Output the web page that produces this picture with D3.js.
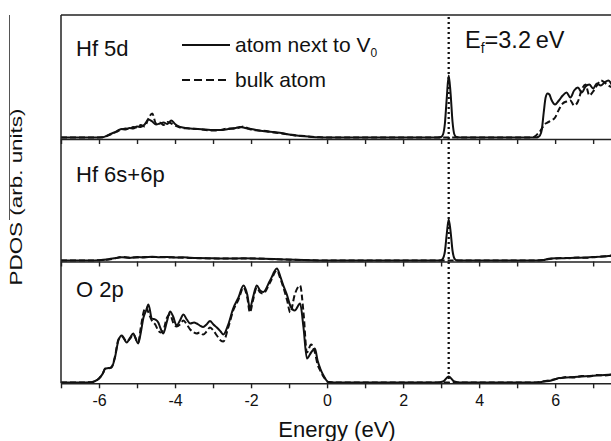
<!DOCTYPE html>
<html><head><meta charset="utf-8">
<script src="https://cdn.jsdelivr.net/npm/d3@7"></script>
<style>html,body{margin:0;padding:0;background:#fff}svg{display:block}text{font-family:"Liberation Sans",Arial,sans-serif;fill:#111}</style>
</head><body><svg id="c" width="611" height="441"></svg>
<script>
// ---- data (arbitrary units) ----
const xTicks = [-7,-6,-5,-4,-3,-2,-1,0,1,2,3,4,5,6,7];
const xLabels = [-6,-4,-2,0,2,4,6];
const panelNames = ["Hf 5d","Hf 6s+6p","O 2p"];
const fermiLevel = 3.2;
const seriesNames = ["atom next to V","bulk atom"];

const hf5dE = [-7,-6.2,-5.9,-5.8,-5.7,-5.6,-5.5,-5.4,-5.3,-5.2,-5.1,-5.0,-4.9,-4.8,-4.7,-4.6,-4.5,-4.4,-4.3,-4.2,-4.1,-4.0,-3.9,-3.8,-3.6,-3.4,-3.2,-3.0,-2.8,-2.6,-2.4,-2.3,-2.2,-2.1,-2.0,-1.8,-1.6,-1.4,-1.2,-1.0,-0.8,-0.6,-0.4,-0.2,0.0,2.9,3.0,3.05,3.1,3.15,3.2,3.25,3.3,3.35,3.4,3.5,5.4,5.5,5.55,5.6,5.65,5.7,5.75,5.8,5.85,5.9,6.0,6.1,6.2,6.3,6.4,6.5,6.6,6.7,6.8,6.9,7.0,7.1,7.2,7.3,7.4,7.5];
const hf5dNext = [0,0,0.3,1.5,3.5,5,7,8.5,8,9.5,9,11,10.5,13,18,16,13,14,15,13.5,17,13.5,11,10,9,8.5,8,7.5,7.5,8.5,9.5,10.5,10,9,8.5,7,6,5.5,4.5,3,2,1.2,0.6,0.2,0,0,0.5,3,14,40,62,44,16,3,0.5,0,0,0,0.5,2,8,25,40,44,43,38,33,37,42,45,40,47,50,45,51,53,49,54,52,55,57,52];
const hf5dBulk = [0,0,0.3,1.5,3,4.5,6.5,8,9,8.5,10.5,10,12.5,11,19,24,14,15,12.5,15.5,14,12,10.5,9.5,9,8.5,7.5,7,7.5,9,9,10,11,9.5,8,7,6.5,5,4,3,2,1.5,0.7,0.2,0,0,0,0,0,0,0,0,0,0,0,0,0,2,4,6,9,12,14,15,16,17,20,28,34,36,37,32,36,48,53,42,46,52,57,55,52,50];

const hf6sE = [-7,-6.2,-6.0,-5.8,-5.6,-5.4,-5.2,-5.0,-4.8,-4.6,-4.4,-4.2,-4.0,-3.8,-3.6,-3.4,-3.0,-2.6,-2.2,-1.8,-1.4,-1.0,-0.6,-0.2,0,2.9,3.0,3.05,3.1,3.15,3.2,3.25,3.3,3.35,3.4,3.5,5.5,5.7,5.8,5.9,6.0,6.2,6.4,6.6,6.8,7.0,7.2,7.4,7.5];
const hf6sNext = [0,0,0.3,1,2.3,3.2,2.6,3.4,3.0,3.8,3.3,3.5,3.0,3.2,2.7,2.4,2.2,2.0,2.2,1.8,1.4,0.9,0.4,0.1,0,0,0.3,2,9,27,41,29,10,2,0.3,0,0,0.5,1.5,2,2.3,2.2,2.6,2.8,3.0,3.5,3.8,4.5,5];
const hf6sBulk = [0,0,0.3,0.8,2.0,3.5,2.9,3.0,3.5,3.4,3.6,3.1,3.2,2.8,2.6,2.3,2.1,2.1,2.0,1.9,1.3,0.8,0.4,0.1,0,0,0,0,0,0,0,0,0,0,0,0,0,0.4,1.2,1.8,2.0,2.5,2.3,3.0,2.7,3.3,4.0,4.3,5.2];

const o2pE = [-7,-6.5,-6.2,-6.1,-6.0,-5.9,-5.84,-5.75,-5.67,-5.58,-5.49,-5.4,-5.27,-5.18,-5.1,-4.97,-4.9,-4.83,-4.76,-4.7,-4.61,-4.52,-4.44,-4.38,-4.31,-4.22,-4.13,-4.05,-3.96,-3.87,-3.78,-3.69,-3.6,-3.5,-3.43,-3.35,-3.26,-3.17,-3.08,-2.99,-2.9,-2.8,-2.73,-2.6,-2.47,-2.33,-2.2,-2.1,-2.03,-1.95,-1.85,-1.76,-1.68,-1.5,-1.32,-1.23,-1.15,-1.05,-0.97,-0.85,-0.71,-0.62,-0.53,-0.42,-0.32,-0.25,-0.18,-0.08,0.03,0.2,2.9,3.05,3.2,3.35,3.5,5.5,5.7,5.9,6.1,6.3,6.5,6.7,6.9,7.1,7.3,7.5];
const o2pNext = [0,0,0.3,1.5,4,9,14,14.5,15,25,42,47,40,45,49,39,50,65,72,78,64,63,60,54,49,60,71,66,57,62,68,63,59,60,59,57,55.5,58,61.5,58,55,51,48,58,74,85,97,88,74,85,97,92,90.5,102,114,106,97,87,77,72,79,55,24,30,34,22,14,6,0.5,0,0,1,6,1,0,0,1,2,4.5,5,5.5,6,6.5,7,7.5,8];
const o2pBulk = [0,0,0.3,1.5,4,9,13.5,14,15.5,26,43,46,41,44,48,40,55,70,75,70,62,58,52,50,52,64,68,60,56,58,62,58,53,50,49,50,48,51,55,52,47,42,41,55,72,83,95,85,70,82,95,90,89,100,112,104,95,82,70,88,97,70,30,38,30,18,12,5,0.5,0,0,0,0,0,0,0,1.2,2.5,4,5.5,5,6.5,6,7.5,7,8];

// ---- layout ----
const svg = d3.select("#c");
const plotLeft = 61, plotRight = 611, plotTop = 15, plotBottom = 383.3;
const x = d3.scaleLinear().domain([-7, 7.47]).range([plotLeft, plotRight]);
const panels = [
  {name: panelNames[0], bottom: 139, base: 137.5, E: hf5dE, a: hf5dNext, b: hf5dBulk, labY: 56},
  {name: panelNames[1], bottom: 261.5, base: 260.5, E: hf6sE, a: hf6sNext, b: hf6sBulk, labY: 182},
  {name: panelNames[2], bottom: 383.3, base: 382.5, E: o2pE, a: o2pNext, b: o2pBulk, labY: 297}
];

panels.forEach((p, idx) => {
  const y = d3.scaleLinear().domain([0, 100]).range([p.base, p.base - 100]);
  const line = d3.line().x(d => x(d[0])).y(d => y(d[1])).curve(d3.curveMonotoneX);
  const g = svg.append("g");
  g.append("path").attr("d", line(p.E.map((e,i)=>[e,p.b[i]])))
    .attr("fill","none").attr("stroke","#111").attr("stroke-width",2).attr("stroke-dasharray","6,3");
  g.append("path").attr("d", line(p.E.map((e,i)=>[e,p.a[i]])))
    .attr("fill","none").attr("stroke","#111").attr("stroke-width",2);
  const ax = d3.axisBottom(x).tickValues(xTicks).tickSize(5).tickSizeOuter(0)
    .tickFormat(d => (idx === 2 && xLabels.includes(d)) ? String(d) : "");
  const ag = svg.append("g").attr("transform", `translate(0,${p.bottom})`).call(ax);
  ag.select(".domain").attr("stroke","#222").attr("stroke-width",1.5);
  ag.selectAll(".tick line").attr("stroke","#222").attr("stroke-width",1.4);
  ag.selectAll(".tick text").attr("font-size",16).attr("font-family","Liberation Sans, Arial, sans-serif")
    .attr("fill","#111").attr("y",11).attr("dy","0.71em");
  svg.append("text").attr("x",76).attr("y",p.labY).attr("font-size",22).text(p.name);
});

// frame: top and left
svg.append("line").attr("x1",plotLeft).attr("x2",plotRight).attr("y1",plotTop).attr("y2",plotTop).attr("stroke","#222").attr("stroke-width",1.5);
svg.append("line").attr("x1",plotLeft).attr("x2",plotLeft).attr("y1",plotTop).attr("y2",plotBottom).attr("stroke","#222").attr("stroke-width",1.5);

// Fermi level dotted line
svg.append("line").attr("x1",x(fermiLevel)).attr("x2",x(fermiLevel)).attr("y1",plotTop+2).attr("y2",plotBottom)
  .attr("stroke","#111").attr("stroke-width",2.3).attr("stroke-dasharray","2,3");

const ef = svg.append("text").attr("x",465).attr("y",48).attr("font-size",23.5);
ef.append("tspan").text("E");
ef.append("tspan").attr("font-size",14).attr("dy",5).text("f");
ef.append("tspan").attr("dy",-5).text("=3.2\u2009eV");

// legend
svg.append("line").attr("x1",182).attr("x2",230).attr("y1",45).attr("y2",45).attr("stroke","#111").attr("stroke-width",2);
svg.append("line").attr("x1",182).attr("x2",230).attr("y1",80).attr("y2",80).attr("stroke","#111").attr("stroke-width",2).attr("stroke-dasharray","8,4");
const l1 = svg.append("text").attr("x",235).attr("y",52).attr("font-size",21);
l1.append("tspan").text(seriesNames[0]);
l1.append("tspan").attr("font-size",12).attr("dy",5).text("0");
svg.append("text").attr("x",235).attr("y",87).attr("font-size",21).text(seriesNames[1]);

// axis titles
svg.append("text").attr("x",337).attr("y",437).attr("text-anchor","middle").attr("font-size",22).text("Energy (eV)");
svg.append("text").attr("transform","translate(22,197) rotate(-90)").attr("text-anchor","middle")
  .attr("font-size",17).attr("textLength",177).attr("lengthAdjust","spacingAndGlyphs").text("PDOS (arb. units)");
svg.append("line").attr("x1",9.5).attr("x2",9.5).attr("y1",15).attr("y2",220).attr("stroke","#555").attr("stroke-width",1);
</script></body></html>
